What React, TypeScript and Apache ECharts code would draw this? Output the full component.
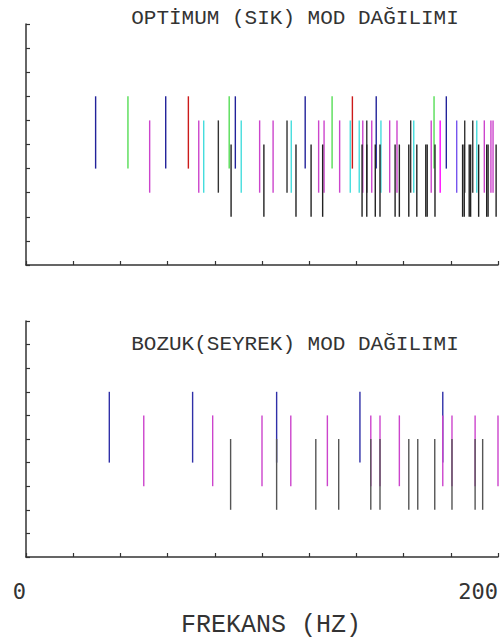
import React, { useEffect, useRef } from "react";
import * as echarts from "echarts";

// ---- Data (frequencies in Hz) ----
const xTickLabels = ["0", "200"];
const LEVEL_A = [4, 7];
const LEVEL_B = [3, 6];
const LEVEL_C = [2, 5];

// Top plot: OPTİMUM (SIK)
const topBlue = [29.5, 59.2, 88.7, 118.3, 148.4, 178.1];
const topGreen = [43.2, 86.1, 129.7, 172.9];
const topRed = [68.8, 138.3];
const topMagenta = [52.4, 73.2, 99.0, 104.7, 124.0, 126.3, 132.9, 142.7, 146.5, 154.1, 157.2, 171.7, 194.2, 197.0, 197.9];
const topBrightMagenta = [175.5];
const topCyan = [75.3, 91.2, 112.4, 137.4, 141.2, 150.4, 164.3, 191.0];
const topPurple = [182.5];
const topBlackB = [81.5, 110.6, 144.4, 163.0, 185.9, 189.3];
const topBlackC = [86.9, 100.8, 114.4, 120.8, 125.7, 142.4, 144.4, 148.0, 150.0, 156.4, 158.2, 162.2, 165.6, 169.4, 170.0, 173.3, 185.0, 185.7, 187.8, 188.4, 191.8, 195.2, 195.8, 199.2];

// Bottom plot: BOZUK (SEYREK)
const botBlue = [35.3, 70.6, 106.2, 141.5, 176.6];
const botMagenta = [49.9, 79.1, 100.0, 112.2, 127.7, 146.1, 150.0, 158.2, 176.6, 180.5, 190.3, 200.0];
const botGray = [86.7, 106.2, 122.8, 132.5, 146.1, 150.0, 162.2, 166.0, 173.2, 180.5, 190.3, 193.5];

const MONO = "'Liberation Mono', 'DejaVu Sans Mono', monospace";

function seg(freqs: number[], level: number[], color: string, gridIndex: number, name: string) {
  return {
    type: "custom",
    name,
    xAxisIndex: gridIndex,
    yAxisIndex: gridIndex,
    data: freqs.map((f) => [f, level[0], level[1]]),
    encode: { x: 0, y: [1, 2] },
    renderItem: (params: any, api: any) => {
      const p1 = api.coord([api.value(0), api.value(1)]);
      const p2 = api.coord([api.value(0), api.value(2)]);
      return {
        type: "line",
        shape: { x1: p1[0], y1: p1[1], x2: p2[0], y2: p2[1] },
        style: { stroke: color, lineWidth: 1.4 },
      };
    },
  };
}

function xAxisFor(gridIndex: number, showLabels: boolean) {
  return {
    type: "value",
    gridIndex,
    min: 0,
    max: 200,
    interval: 20,
    axisLine: { show: true, lineStyle: { color: "#333", width: 1.5 } },
    axisTick: { show: true, inside: true, length: 4, lineStyle: { color: "#333", width: 1.2 } },
    splitLine: { show: false },
    axisLabel: {
      show: showLabels,
      align: "right",
      margin: 23,
      fontFamily: "'DejaVu Sans Mono', monospace",
      fontSize: 22,
      color: "#333",
      formatter: (v: number) => (xTickLabels.includes(String(v)) ? String(v) : ""),
    },
    name: showLabels ? "FREKANS (HZ)" : "",
    nameLocation: "middle",
    nameGap: 56,
    nameTextStyle: { fontFamily: MONO, fontSize: 25, color: "#333", padding: [0, 0, 0, 18] },
  };
}

function yAxisFor(gridIndex: number) {
  return {
    type: "value",
    gridIndex,
    min: 0,
    max: 10,
    interval: 1,
    axisLine: { show: true, lineStyle: { color: "#333", width: 1.5 } },
    axisTick: { show: true, inside: true, length: 4, lineStyle: { color: "#333", width: 1.2 } },
    splitLine: { show: false },
    axisLabel: { show: false },
  };
}

export default function App() {
  const ref = useRef<HTMLDivElement>(null);
  useEffect(() => {
    if (!ref.current) return;
    const chart = echarts.init(ref.current, undefined, { renderer: "svg" });
    chart.setOption({
      animation: false,
      backgroundColor: "#ffffff",
      grid: [
        { left: 26, top: 24, width: 472, height: 241 },
        { left: 26, top: 321, width: 472, height: 241 },
      ],
      xAxis: [xAxisFor(0, false), xAxisFor(1, true)],
      yAxis: [yAxisFor(0), yAxisFor(1)],
      graphic: [
        {
          type: "text",
          x: 295,
          y: 18,
          style: {
            text: "OPTİMUM (SIK) MOD DAĞILIMI",
            font: `21px ${MONO}`,
            fill: "#333",
            textAlign: "center",
            textVerticalAlign: "middle",
          },
        },
        {
          type: "text",
          x: 295,
          y: 344,
          style: {
            text: "BOZUK(SEYREK) MOD DAĞILIMI",
            font: `21px ${MONO}`,
            fill: "#333",
            textAlign: "center",
            textVerticalAlign: "middle",
          },
        },
      ],
      series: [
        seg(topBlue, LEVEL_A, "#22229a", 0, "topBlue"),
        seg(topGreen, LEVEL_A, "#55dd55", 0, "topGreen"),
        seg(topRed, LEVEL_A, "#cc1a1a", 0, "topRed"),
        seg(topMagenta, LEVEL_B, "#cc44cc", 0, "topMagenta"),
        seg(topBrightMagenta, LEVEL_B, "#ff00ff", 0, "topBrightMagenta"),
        seg(topCyan, LEVEL_B, "#44dddd", 0, "topCyan"),
        seg(topPurple, LEVEL_B, "#7755ee", 0, "topPurple"),
        seg(topBlackB, LEVEL_B, "#333333", 0, "topBlackB"),
        seg(topBlackC, LEVEL_C, "#222222", 0, "topBlackC"),
        seg(botBlue, LEVEL_A, "#3030a8", 1, "botBlue"),
        seg(botMagenta, LEVEL_B, "#cc44cc", 1, "botMagenta"),
        seg(botGray, LEVEL_C, "#555555", 1, "botGray"),
      ],
    });
    return () => chart.dispose();
  }, []);
  return (
    <div
      ref={ref}
      style={{ position: "absolute", left: 0, top: 0, width: 504, height: 639 }}
    />
  );
}
